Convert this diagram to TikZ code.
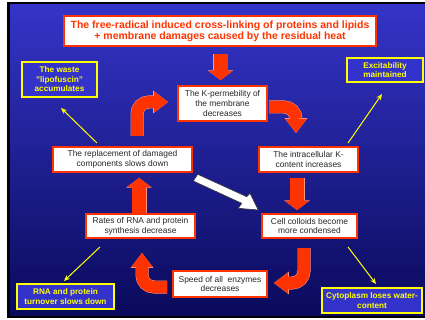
\documentclass[tikz,border=0pt]{standalone}
\usepackage{fontspec}
\setmainfont{Liberation Sans}
\usetikzlibrary{arrows.meta}
\definecolor{bgtop}{RGB}{52,52,200}
\definecolor{bgbot}{RGB}{10,10,92}
\definecolor{ared}{RGB}{255,51,0}
\definecolor{aedge}{RGB}{255,150,130}
\definecolor{ybox}{RGB}{51,51,204}
\definecolor{yel}{RGB}{255,255,0}
\begin{document}
\begin{tikzpicture}[x=1pt,y=-1pt,
  wbox/.style={draw=ared, line width=1.2pt, fill=white, inner sep=0pt, align=center,
    text=black!85, font=\fontsize{8.4}{9.7}\selectfont},
  ybx/.style={draw=yel, line width=1.4pt, fill=ybox, inner sep=0pt, align=center,
    text=yel, font=\bfseries\fontsize{8.2}{9.5}\selectfont},
  tbox/.style={draw=ared, line width=1.4pt, fill=white, inner sep=0pt, align=center,
    text=ared, font=\bfseries\fontsize{10.5}{11.2}\selectfont},
  redarr/.style={line width=12pt, draw=ared, rounded corners=12pt,
    -{Triangle[width=21pt,length=14pt,line width=0pt]},
    preaction={draw=aedge, line width=13pt, -{Triangle[width=22.6pt,length=14.8pt,line width=0pt]}}},
  sarr/.style={line width=14pt, draw=ared,
    -{Triangle[width=24pt,length=9pt,line width=0pt]},
    preaction={draw=aedge, line width=15pt, -{Triangle[width=25.6pt,length=9.6pt,line width=0pt]}}},
  yarr/.style={draw=yel, line width=1pt, -{Stealth[length=6pt,width=5pt]}}
]
\useasboundingbox (0,0) rectangle (425,320);
\fill[white] (0,0) rectangle (425,320);
\fill[black] (7,2) rectangle (425,318);
\shade[top color=bgtop, bottom color=bgbot] (10,5) rectangle (425,315);

% boxes
\node[tbox, minimum width=312pt, minimum height=30pt] (title) at (220,31)
  {The free-radical induced cross-linking of proteins and lipids\\+ membrane damages caused by the residual heat};
\node[ybx, minimum width=75pt, minimum height=35pt] (lipo) at (59.5,79.5)
  {The waste\\"lipofuscin"\\accumulates};
\node[ybx, minimum width=76pt, minimum height=24pt] (excit) at (385,70)
  {Excitability\\maintained};
\node[wbox, minimum width=89pt, minimum height=35pt] (kperm) at (222.5,103.5)
  {The K-permebility of\\the membrane\\decreases};
\node[wbox, minimum width=139pt, minimum height=25pt] (repl) at (122.5,159.5)
  {The replacement of damaged\\components slows down};
\node[wbox, minimum width=99pt, minimum height=25pt] (intra) at (308.5,159.5)
  {The intracellular K-\\content increases};
\node[wbox, minimum width=109pt, minimum height=24pt] (rates) at (140.5,226)
  {Rates of RNA and protein\\synthesis decrease};
\node[wbox, minimum width=95pt, minimum height=24pt] (cell) at (309.5,226)
  {Cell colloids become\\more condensed};
\node[wbox, minimum width=94pt, minimum height=26pt] (speed) at (220,284)
  {Speed of all\ \ enzymes\\decreases};
\node[ybx, minimum width=97pt, minimum height=25pt] (turn) at (65.5,296.5)
  {RNA and protein\\turnover slows down};
\node[ybx, minimum width=100pt, minimum height=25pt] (cyto) at (372,300.5)
  {Cytoplasm loses water-\\content};

% red block arrows
\draw[sarr] (220.5,54) -- (220.5,80);
\draw[redarr] (137,136) -- (137,102) -- (168,102);
\draw[redarr] (269,107) -- (296,107) -- (296,133);
\draw[sarr] (297,178) -- (297,210);
\draw[redarr] (304,248) -- (304,283) -- (274,283);
\draw[redarr] (167,287) -- (142,287) -- (142,253);
\draw[sarr] (139,213) -- (139,178);

% white block arrow
\filldraw[fill=white, draw=black!80, line width=0.6pt]
  (197.7,174.3) -- (246.7,196.7) -- (250,193.3) -- (258.3,210)
  -- (238.3,208.3) -- (241.7,203.3) -- (193.3,181) -- cycle;

% yellow arrows
\coordinate (y1s) at (97,143);  \coordinate (y1e) at (61,108);
\coordinate (y2s) at (348,143); \coordinate (y2e) at (382,94);
\coordinate (y3s) at (100,247); \coordinate (y3e) at (64,281);
\coordinate (y4s) at (348,247); \coordinate (y4e) at (376,284);
\draw[yarr] (y1s) -- (y1e);
\draw[yarr] (y2s) -- (y2e);
\draw[yarr] (y3s) -- (y3e);
\draw[yarr] (y4s) -- (y4e);
\end{tikzpicture}
\end{document}
